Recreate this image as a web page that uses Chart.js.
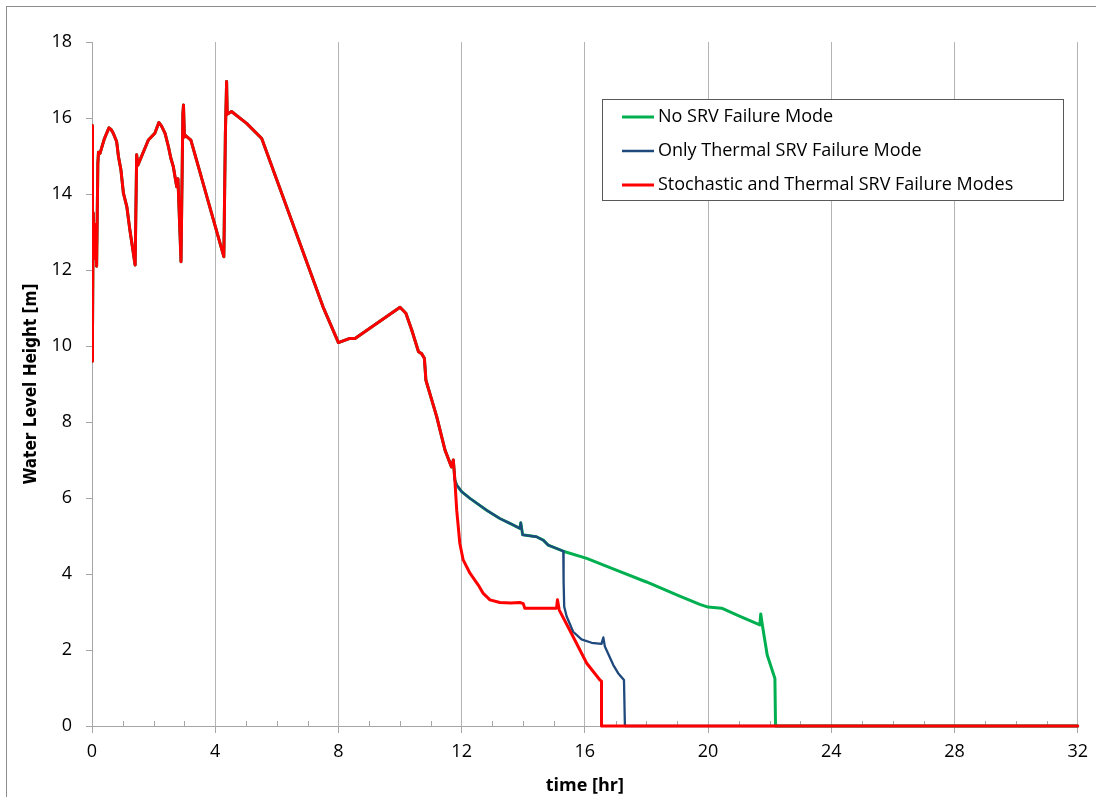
<!doctype html>
<html>

	<head>
		<meta charset="utf-8" />
		<meta name="viewport" content="initial-scale=1.0, user-scalable=no" />

		<title>Water Level Height</title>

		<style>
			html	{ height: 100% }
			body	{ height: 100%; margin: 0; padding: 0; background: #fff }
			canvas	{ display:block; }
		</style>

		<script src="https://cdn.jsdelivr.net/npm/chart.js@4.4.1/dist/chart.umd.min.js"></script>

		<script>

			// time [hr] / level [m] before the three runs split apart
			var commonTime = [0, 0, 0.03, 0.04, 0.08, 0.11, 0.15, 0.19, 0.21, 0.26,
				0.4, 0.55, 0.62, 0.69, 0.8, 0.86, 0.94, 1.02, 1.13, 1.23,
				1.4, 1.45, 1.49, 1.83, 2.04, 2.17, 2.25, 2.37, 2.48, 2.56,
				2.64, 2.75, 2.79, 2.89, 2.95, 2.97, 3.0, 3.02, 3.21, 4.28,
				4.33, 4.37, 4.39, 4.53, 5.02, 5.51, 7.5, 8.0, 8.37, 8.54,
				10.0, 10.19, 10.38, 10.6, 10.7, 10.79, 10.84, 11.19, 11.46, 11.67,
				11.73, 11.78];
			var commonLevel = [15.8, 9.6, 10.2, 13.5, 12.3, 13.2, 12.1, 14.8, 15.1, 15.07,
				15.45, 15.74, 15.7, 15.6, 15.38, 14.98, 14.63, 14.02, 13.67, 13.05,
				12.13, 15.03, 14.76, 15.42, 15.6, 15.88, 15.8, 15.6, 15.25, 14.94,
				14.72, 14.19, 14.4, 12.22, 16.1, 16.34, 15.5, 15.55, 15.42, 12.35,
				15.6, 16.96, 16.1, 16.17, 15.86, 15.46, 11.03, 10.09, 10.2, 10.2,
				11.02, 10.86, 10.42, 9.85, 9.8, 9.68, 9.1, 8.14, 7.26, 6.82,
				7.0, 6.47];

			// shared by the runs without stochastic failure
			var thermalTime = [11.84, 12.0, 12.27, 12.81, 13.24, 13.6, 13.89, 13.92, 13.98, 14.43, 14.65, 14.81, 15.03, 15.30];
			var thermalLevel = [6.34, 6.17, 5.99, 5.68, 5.46, 5.32, 5.2, 5.35, 5.03, 4.98, 4.89, 4.76, 4.69, 4.6];

			var noFailTime = [16.06, 17.0, 18.0, 19.08, 19.73, 20.0, 20.44, 21.0, 21.68, 21.71, 21.77, 21.92, 22.17, 22.19, 32];
			var noFailLevel = [4.41, 4.11, 3.79, 3.42, 3.2, 3.13, 3.1, 2.9, 2.66, 2.95, 2.62, 1.87, 1.25, 0, 0];

			var onlyThermalTime = [15.31, 15.33, 15.41, 15.62, 15.89, 16.22, 16.54, 16.6, 16.65, 16.92, 17.08, 17.27, 17.30, 32];
			var onlyThermalLevel = [3.8, 3.14, 2.88, 2.48, 2.28, 2.19, 2.16, 2.33, 2.09, 1.61, 1.39, 1.21, 0, 0];

			var stochasticTime = [11.84, 11.94, 12.05, 12.27, 12.54, 12.70, 12.92, 13.24, 13.6, 13.89, 14.0, 14.05, 14.6, 15.08, 15.11, 15.17, 15.62, 16.06, 16.49, 16.54, 16.54, 32];
			var stochasticLevel = [5.68, 4.81, 4.37, 4.02, 3.71, 3.49, 3.32, 3.25, 3.24, 3.25, 3.22, 3.1, 3.1, 3.1, 3.32, 3.05, 2.35, 1.65, 1.21, 1.18, 0, 0];

			var xTicks = [0, 4, 8, 12, 16, 20, 24, 28, 32];
			var yTicks = [0, 2, 4, 6, 8, 10, 12, 14, 16, 18];

			var seriesLabels = ['No SRV Failure Mode', 'Only Thermal SRV Failure Mode', 'Stochastic and Thermal SRV Failure Modes'];
			var seriesColors = ['#00b050', '#1f497d', '#ff0000'];

			function toPoints() {
				var pts = [];
				for (var a = 0; a < arguments.length; a += 2) {
					var t = arguments[a], h = arguments[a + 1];
					for (var i = 0; i < t.length; i++) {
						pts.push({ x: t[i], y: h[i] });
					}
				}
				return pts;
			}

			var FONT = '"Open Sans", "Noto Sans", sans-serif';

			// white page with the grey chart frame
			var framePlugin = {
				id: 'frame',
				beforeDraw: function(chart) {
					var ctx = chart.ctx;
					ctx.save();
					ctx.fillStyle = '#ffffff';
					ctx.fillRect(0, 0, chart.width, chart.height);
					ctx.strokeStyle = '#8c8c8c';
					ctx.lineWidth = 1;
					ctx.strokeRect(6.5, 6.5, chart.width + 20, chart.height + 20);
					ctx.restore();
				}
			};

			// one small tick per hour on the time axis
			var minorTickPlugin = {
				id: 'minorTicks',
				beforeDatasetsDraw: function(chart) {
					var ctx = chart.ctx, x = chart.scales.x, bottom = chart.chartArea.bottom;
					ctx.save();
					ctx.strokeStyle = '#a6a6a6';
					ctx.lineWidth = 1;
					ctx.beginPath();
					for (var h = 1; h < 32; h++) {
						if (h % 4 === 0) continue;
						var px = Math.round(x.getPixelForValue(h)) + 0.5;
						ctx.moveTo(px, bottom - 5);
						ctx.lineTo(px, bottom);
					}
					ctx.stroke();
					ctx.restore();
				}
			};

			var legendBoxPlugin = {
				id: 'legendBox',
				afterDraw: function(chart) {
					var ctx = chart.ctx;
					var left = 602.5, top = 99.5, w = 461, h = 101;
					ctx.save();
					ctx.fillStyle = '#ffffff';
					ctx.fillRect(left, top, w, h);
					ctx.strokeStyle = '#595959';
					ctx.lineWidth = 1;
					ctx.strokeRect(left, top, w, h);
					ctx.font = '18px ' + FONT;
					ctx.textBaseline = 'middle';
					ctx.fillStyle = '#000000';
					for (var i = 0; i < seriesLabels.length; i++) {
						var y = 117 + i * 34;
						ctx.strokeStyle = seriesColors[i];
						ctx.lineWidth = i === 1 ? 2.5 : 3;
						ctx.beginPath();
						ctx.moveTo(622, y);
						ctx.lineTo(654, y);
						ctx.stroke();
						ctx.fillText(seriesLabels[i], 658, y);
					}
					ctx.restore();
				}
			};

			function createChart() {

				var canvas = document.getElementById('canvas');
				canvas.width = 1096;
				canvas.height = 797;

				var datasets = [
					{
						label: seriesLabels[0],
						data: toPoints(commonTime, commonLevel, thermalTime, thermalLevel, noFailTime, noFailLevel),
						borderColor: seriesColors[0],
						borderWidth: 3,
						order: 3
					},
					{
						label: seriesLabels[1],
						data: toPoints(commonTime, commonLevel, thermalTime, thermalLevel, onlyThermalTime, onlyThermalLevel),
						borderColor: seriesColors[1],
						borderWidth: 2.3,
						order: 2
					},
					{
						label: seriesLabels[2],
						data: toPoints(commonTime, commonLevel, stochasticTime, stochasticLevel),
						borderColor: seriesColors[2],
						borderWidth: 3,
						order: 1
					}
				];

				datasets.forEach(function(d) {
					d.showLine = true;
					d.pointRadius = 0;
					d.tension = 0;
					d.fill = false;
					d.borderJoinStyle = 'round';
					d.borderCapStyle = 'round';
					d.clip = { left: 0, top: 4, right: 4, bottom: 4 };
				});

				new Chart(canvas.getContext('2d'), {
					type: 'scatter',
					data: { datasets: datasets },
					options: {
						responsive: false,
						animation: false,
						events: [],
						layout: { padding: { top: 42, right: 18, left: 0, bottom: 0 } },
						plugins: { legend: { display: false }, tooltip: { enabled: false } },
						scales: {
							x: {
								type: 'linear',
								min: 0,
								max: 32,
								afterBuildTicks: function(s) { s.ticks = xTicks.map(function(v) { return { value: v }; }); },
								afterFit: function(s) { s.height = 71; },
								ticks: { color: '#000', font: { family: FONT, size: 18 }, padding: 8, maxRotation: 0 },
								grid: { color: '#b4b4b4', tickColor: '#a6a6a6', tickLength: 7, lineWidth: 1 },
								border: { color: '#a6a6a6' },
								title: { display: true, text: 'time [hr]', color: '#000', font: { family: FONT, size: 18, weight: 'bold' }, padding: { top: 0, bottom: 0 } }
							},
							y: {
								min: 0,
								max: 18,
								afterBuildTicks: function(s) { s.ticks = yTicks.map(function(v) { return { value: v }; }); },
								afterFit: function(s) { s.width = 92; },
								ticks: { color: '#000', font: { family: FONT, size: 18 }, padding: 14 },
								grid: { drawOnChartArea: false, color: '#a6a6a6', tickLength: 6 },
								border: { color: '#a6a6a6' },
								title: { display: true, text: 'Water Level Height [m]', color: '#000', font: { family: '"Liberation Sans Narrow", "DejaVu Sans Condensed", Roboto, sans-serif', size: 17, weight: 'bold' }, padding: { top: 21, bottom: 0 } }
							}
						}
					},
					plugins: [framePlugin, minorTickPlugin, legendBoxPlugin]
				});
			}

		</script>

	</head>

	<body onload="createChart();">

		<canvas id="canvas" width="1096" height="797"></canvas>

	</body>

</html>
